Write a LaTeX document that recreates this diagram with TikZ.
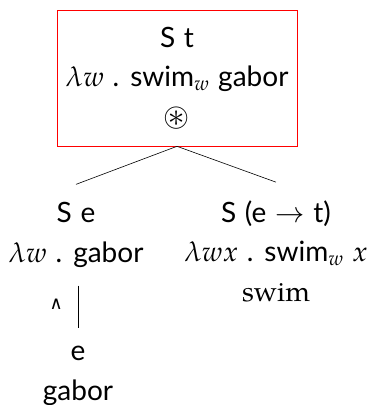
\documentclass[tikz,border=0pt]{standalone}
\usepackage{mathpazo}
\usepackage{amssymb}
\usepackage{fontspec}
\newfontfamily\opt[WordSpace=1.2]{Lato}
\newfontfamily\pal{TeX Gyre Pagella}
\newfontfamily\dv{DejaVu Sans}
\DeclareMathSizes{28}{28}{20}{14}
\begin{document}
\begin{tikzpicture}[x=1pt,y=-1pt,
  lbl/.style={font=\opt\fontsize{28}{39.5}\selectfont, align=center, inner xsep=0pt, inner ysep=18pt},
  topbox/.style={lbl, inner sep=0pt, draw=red, line width=0.6pt, minimum width=240pt, minimum height=136pt},
  edge/.style={line width=0.6pt}]
\useasboundingbox (0,0) rectangle (368,405);
\node[topbox] (top) at (177,78) {S t\\ $\lambda w$ . swim$_w$ gabor\\ \scalebox{1.15}{$\circledast$}};
\node[lbl] (left) at (76,235) {S e\\ $\lambda w$ . gabor};
\node[lbl] (right) at (276,251) {S (e $\rightarrow$ t)\\ $\lambda wx$ . swim$_w$ $x$\\ {\pal\fontsize{28}{39}\selectfont swim}};
\node[lbl] (bot) at (78,376) {e\\ gabor};
\draw[edge] (top.south) -- (left.north);
\draw[edge] (top.south) -- (right.north);
\draw[edge] (left.south -| bot.north) -- node[left=15pt, inner sep=0pt, yshift=3pt, font=\dv\fontsize{18}{20}\selectfont]{∧} (bot.north);
\end{tikzpicture}
\end{document}
